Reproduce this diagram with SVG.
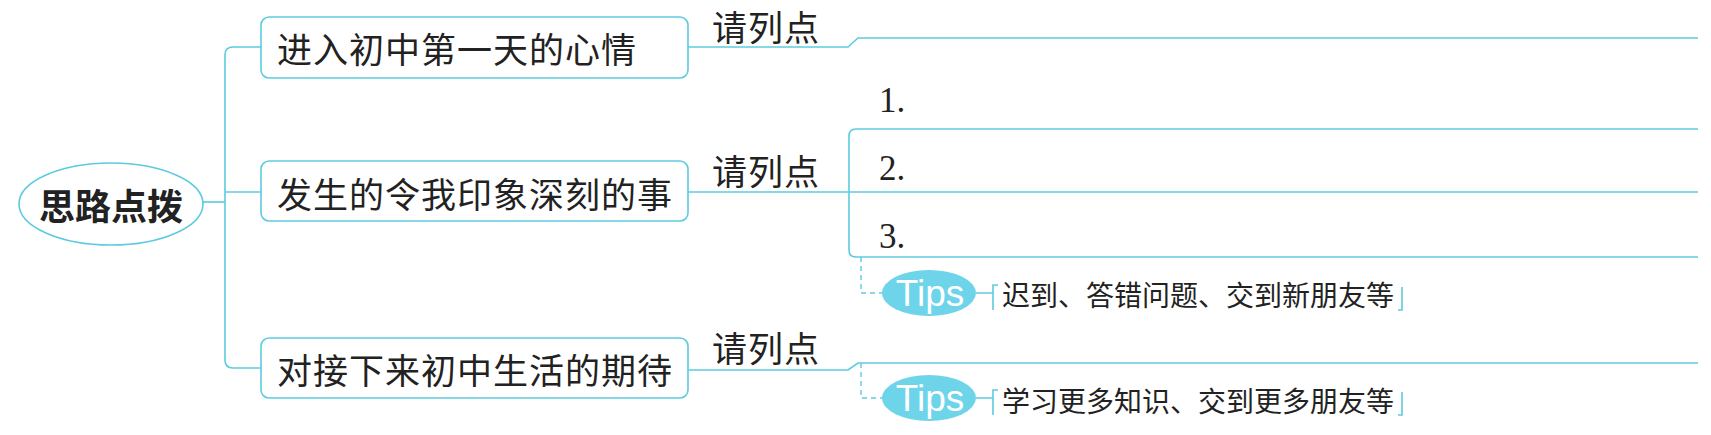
<svg xmlns="http://www.w3.org/2000/svg" width="1711" height="435" viewBox="0 0 1711 435">
<style>
.ln{fill:none;stroke:#5ccbdf;stroke-width:1.6}
.dash{fill:none;stroke:#5ccbdf;stroke-width:1.4;stroke-dasharray:5 4}
.box{fill:#fff;stroke:#5ccbdf;stroke-width:1.6}
.cjk{font-family:"Noto Sans CJK SC","Noto Sans",sans-serif;fill:#222;dominant-baseline:central}
.big{font-size:35px;letter-spacing:1px}
.tip{font-size:28px}
.num{font-family:"Liberation Serif",serif;font-size:35px;fill:#222}
.tipsE{fill:#6ed4ea}
.tipsT{font-family:"Liberation Sans",Arial,sans-serif;font-size:37px;fill:#fff;text-anchor:middle}
</style>
<rect width="1711" height="435" fill="#fff"/>
<g id="connectors">
<path class="ln" d="M203,202 H225"/>
<path class="ln" d="M261,47 H233 Q225,47 225,55 V360 Q225,368 233,368 H261"/>
<path class="ln" d="M225,192 H261"/>
<path class="ln" d="M688,47 H848 L858,38 H1698"/>
<path class="ln" d="M688,192 H1698"/>
<path class="ln" d="M1698,129 H856 Q849,129 849,136 V250 Q849,257 856,257 H1698"/>
<path class="ln" d="M688,370 H848 L858,363 H1698"/>
<path class="dash" d="M861,257 V293 H882"/>
<path class="dash" d="M861,363 V398 H882"/>
<path class="ln" d="M976,293 H993 M998,285 H993 V310"/>
<path class="ln" d="M1402,287 V310 H1398"/>
<path class="ln" d="M976,398 H993 M998,390 H993 V415"/>
<path class="ln" d="M1402,392 V415 H1398"/>
</g>
<g id="root">
<ellipse cx="111" cy="204" rx="92" ry="41" fill="#fff" stroke="#5ccbdf" stroke-width="1.6"/>
<text x="111" y="204" class="cjk" font-size="36" font-weight="bold" text-anchor="middle" fill="#111">思路点拨</text>
</g>
<g id="node1">
<rect class="box" x="261" y="17" width="427" height="61" rx="8"/>
<text class="cjk big" x="277" y="47">进入初中第一天的心情</text>
</g>
<g id="node2">
<rect class="box" x="261" y="161" width="427" height="60" rx="8"/>
<text class="cjk big" x="277" y="192">发生的令我印象深刻的事</text>
</g>
<g id="node3">
<rect class="box" x="261" y="338" width="427" height="60" rx="8"/>
<text class="cjk big" x="277" y="368">对接下来初中生活的期待</text>
</g>
<g id="label1"><text class="cjk big" x="712" y="25">请列点</text></g>
<g id="label2"><text class="cjk big" x="712" y="169">请列点</text></g>
<g id="label3"><text class="cjk big" x="712" y="346">请列点</text></g>
<g id="items">
<text class="num" x="879" y="112">1.</text>
<text class="num" x="879" y="180">2.</text>
<text class="num" x="879" y="248">3.</text>
</g>
<g id="tips1">
<ellipse class="tipsE" cx="929" cy="293" rx="47" ry="23"/>
<text class="tipsT" x="930" y="306">Tips</text>
<text class="cjk tip" x="1002" y="294">迟到、答错问题、交到新朋友等</text>
</g>
<g id="tips2">
<ellipse class="tipsE" cx="929" cy="398" rx="47" ry="23"/>
<text class="tipsT" x="930" y="411">Tips</text>
<text class="cjk tip" x="1002" y="400">学习更多知识、交到更多朋友等</text>
</g>
</svg>
